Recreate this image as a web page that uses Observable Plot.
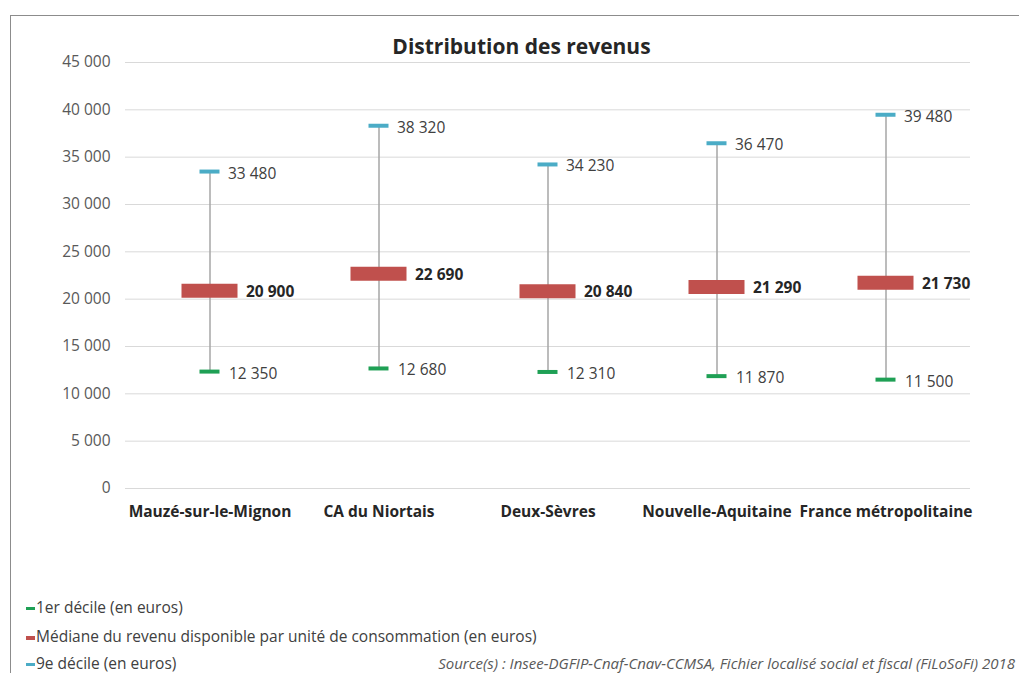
<!DOCTYPE html>
<html>
<head>
<meta charset="utf-8">
<script src="https://cdn.jsdelivr.net/npm/d3@7"></script>
<script src="https://cdn.jsdelivr.net/npm/@observablehq/plot@0.6"></script>
<style>
  html, body { margin: 0; padding: 0; background: #fff; }
  #wrap { position: relative; width: 1019px; height: 673px; overflow: hidden; font-family: "Open Sans", "Liberation Sans", sans-serif; }
  #frameTop { position: absolute; left: 10px; top: 15px; width: 1009px; height: 0; border-top: 1.5px solid #8c8c8c; }
  #frameLeft { position: absolute; left: 10px; top: 15px; width: 0; height: 658px; border-left: 1.5px solid #8c8c8c; }
  #title { position: absolute; left: 0; width: 1043px; top: 32px; text-align: center; font-size: 21px; font-weight: bold; color: #262626; line-height: 28px; }
  #chart { position: absolute; left: 0; top: 0; }
  .leg { position: absolute; left: 26px; font-size: 15.5px; color: #404040; white-space: nowrap; line-height: 22px; }
  .leg span.sw { display: inline-block; width: 9px; vertical-align: middle; margin-right: 1px; }
  #source { position: absolute; right: 4px; top: 652px; font-size: 15px; font-style: italic; color: #595959; white-space: nowrap; line-height: 22px; }
</style>
</head>
<body>
<div id="wrap">
  <div id="frameTop"></div>
  <div id="frameLeft"></div>
  <div id="chart"></div>
  <div id="title">Distribution des revenus</div>
  <div id="legend"></div>
  <div id="source">Source(s) : Insee-DGFIP-Cnaf-Cnav-CCMSA, Fichier localisé social et fiscal (FiLoSoFi) 2018</div>
</div>
<script>
const categories = ["Mauzé-sur-le-Mignon", "CA du Niortais", "Deux-Sèvres", "Nouvelle-Aquitaine", "France métropolitaine"];
const decile1 = [12350, 12680, 12310, 11870, 11500];
const mediane = [20900, 22690, 20840, 21290, 21730];
const decile9 = [33480, 38320, 34230, 36470, 39480];
const yTicks = [0, 5000, 10000, 15000, 20000, 25000, 30000, 35000, 40000, 45000];
const seriesNames = ["1er décile (en euros)", "Médiane du revenu disponible par unité de consommation (en euros)", "9e décile (en euros)"];
const seriesColors = ["#1fa055", "#c0504d", "#4bacc6"];

const fr = d3.formatLocale({decimal: ",", thousands: "\u00a0", grouping: [3], currency: ["", " €"]});
const fmt = fr.format(",");

const data = categories.map((c, i) => ({cat: c, d1: decile1[i], med: mediane[i], d9: decile9[i]}));

const W = 1019, H = 530;
const plot = Plot.plot({
  width: W,
  height: H,
  marginLeft: 125,
  marginRight: 49,
  marginTop: 62,
  marginBottom: 42,
  style: {fontFamily: "'Open Sans', 'Liberation Sans', sans-serif", fontSize: "15.5px", color: "#595959", background: "transparent", overflow: "visible"},
  x: {domain: categories, padding: 0, label: null},
  y: {domain: [0, 45000], label: null},
  marks: [
    Plot.gridY(yTicks, {stroke: "#d9d9d9", strokeOpacity: 1, strokeWidth: 1}),
    Plot.axisY(yTicks, {tickSize: 0, tickPadding: 15, tickFormat: fmt, fill: "#595959", fontSize: 15.5}),
    Plot.axisX({tickSize: 0, tickPadding: 17, fontWeight: "bold", fill: "#262626", fontSize: 15.5}),
    Plot.ruleX(data, {x: "cat", y1: "d1", y2: "d9", stroke: "#a6a6a6", strokeWidth: 1.5}),
    Plot.tickY(data, {x: "cat", y: "d9", stroke: seriesColors[2], strokeWidth: 4, insetLeft: 74.5, insetRight: 74.5}),
    Plot.tickY(data, {x: "cat", y: "d1", stroke: seriesColors[0], strokeWidth: 4, insetLeft: 74.5, insetRight: 74.5}),
    Plot.tickY(data, {x: "cat", y: "med", stroke: seriesColors[1], strokeWidth: 14, insetLeft: 56.5, insetRight: 56.5}),
    Plot.text(data, {x: "cat", y: "d9", text: d => fmt(d.d9), textAnchor: "start", dx: 18, dy: 2, fill: "#404040", fontSize: 15.5}),
    Plot.text(data, {x: "cat", y: "med", text: d => fmt(d.med), textAnchor: "start", dx: 36, dy: 1, fill: "#262626", fontWeight: "bold", fontSize: 15.5}),
    Plot.text(data, {x: "cat", y: "d1", text: d => fmt(d.d1), textAnchor: "start", dx: 19, dy: 2, fill: "#404040", fontSize: 15.5})
  ]
});
document.getElementById("chart").appendChild(plot);

const legTops = [596, 625, 652];
const legend = document.getElementById("legend");
seriesNames.forEach((n, i) => {
  const d = document.createElement("div");
  d.className = "leg";
  d.style.top = legTops[i] + "px";
  const sw = document.createElement("span");
  sw.className = "sw";
  sw.style.height = (i === 1 ? 4 : 3) + "px";
  sw.style.background = seriesColors[i];
  d.appendChild(sw);
  d.appendChild(document.createTextNode(n));
  legend.appendChild(d);
});
</script>
</body>
</html>
